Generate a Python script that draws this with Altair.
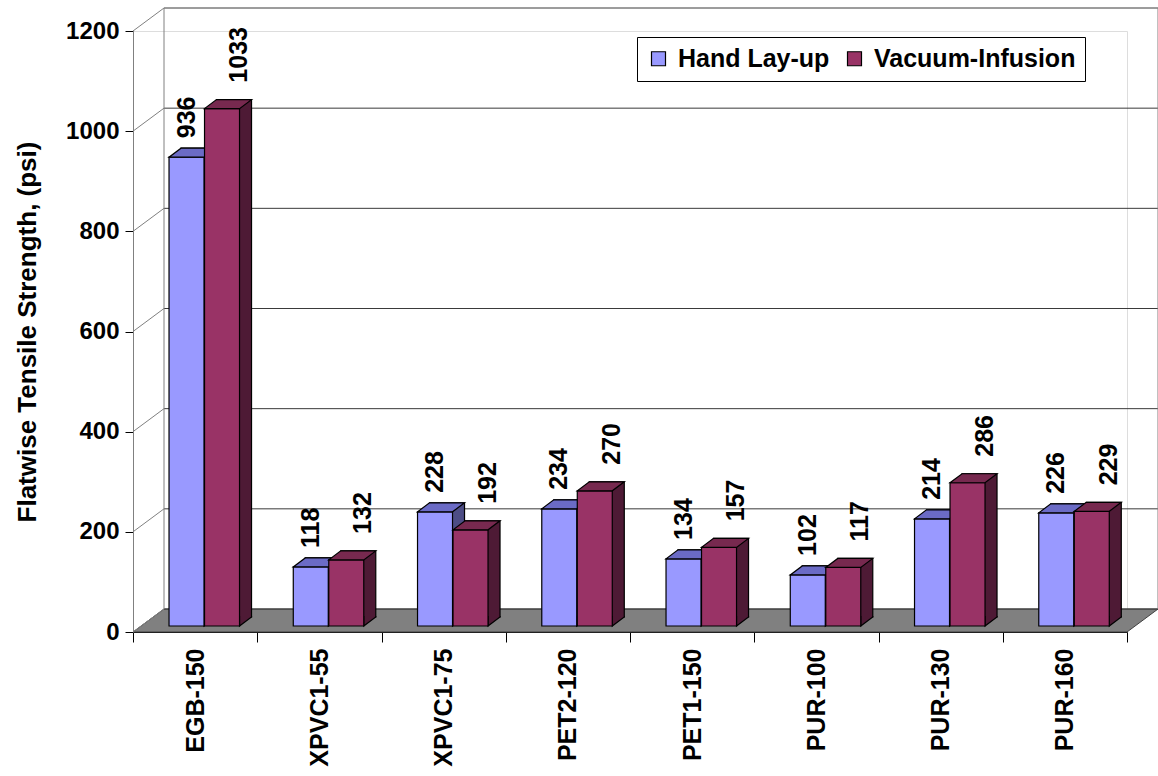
import altair as alt
import pandas as pd

# ---- data -------------------------------------------------------------
categories = ["EGB-150", "XPVC1-55", "XPVC1-75", "PET2-120",
              "PET1-150", "PUR-100", "PUR-130", "PUR-160"]
hand_layup = [936, 118, 228, 234, 134, 102, 214, 226]
vacuum_infusion = [1033, 132, 192, 270, 157, 117, 286, 229]
methods = ["Hand Lay-up", "Vacuum-Infusion"]
y_ticks = [0, 200, 400, 600, 800, 1000, 1200]

# ---- styling / geometry --------------------------------------------------
FONT = "Liberation Sans, Arial, sans-serif"
W, H = 994, 601                 # front plot rectangle
WALL_DX, WALL_DY = 31, 23       # depth of the box (walls / floor)
BAR_W = 35                      # front face width of one bar
BAR_DX, BAR_DY = 12, 9          # depth of each bar block
LIFT = -6                       # bars stand in the middle of the floor
# horizontal placement of each series' bar centre relative to the band centre
SERIES_DX = {"Hand Lay-up": -8.6, "Vacuum-Infusion": 26.9}

rows = []
for cat, h, v in zip(categories, hand_layup, vacuum_infusion):
    rows.append({"material": cat, "method": methods[0], "psi": h})
    rows.append({"material": cat, "method": methods[1], "psi": v})
bars_df = pd.DataFrame(rows)
ticks_df = pd.DataFrame({"psi": y_ticks})

y_scale = alt.Scale(domain=[0, 1200], nice=False, zero=True)
x_scale = alt.Scale(domain=categories, paddingInner=0, paddingOuter=0)
color_scale = alt.Scale(domain=methods, range=["#9999FF", "#993366"])

x_axis = alt.Axis(
    title=None, labelAngle=270, labelAlign="right", labelBaseline="middle",
    labelFont=FONT, labelFontSize=25, labelFontWeight="bold", labelColor="black",
    labelPadding=6, tickBand="extent", tickSize=10, tickColor="black",
    domainColor="black", domainWidth=1.2, grid=False,
)
y_axis = alt.Axis(
    values=y_ticks, format="d", title="Flatwise Tensile Strength, (psi)",
    grid=False, domainColor="#808080", tickColor="black", tickSize=8,
    labelFont=FONT, labelFontSize=24, labelFontWeight="bold", labelColor="black",
    labelPadding=6, titleFont=FONT, titleFontSize=26, titleFontWeight="bold",
    titleColor="black", titlePadding=25,
)

X = alt.X("material:N", scale=x_scale, sort=categories, axis=x_axis)
Y = alt.Y("psi:Q", scale=y_scale, axis=y_axis)

legend = alt.Legend(
    orient="none", legendX=504, legendY=6, direction="horizontal", title=None,
    labelFont=FONT, labelFontSize=25, labelFontWeight="bold", labelColor="black",
    labelLimit=0, symbolType="square", symbolSize=196, symbolStrokeColor="black",
    symbolStrokeWidth=1.2, symbolOpacity=1, strokeColor="black",
    fillColor="white", padding=9, columnPadding=12, labelOffset=7,
)

# ---- the 3-D box: floor, back wall, left wall -----------------------------
floor_path = (f"M0,0 L{W},0 L{W + WALL_DX},{-WALL_DY} "
              f"L{WALL_DX},{-WALL_DY} Z")
floor = alt.Chart(ticks_df).transform_filter("datum.psi == 0").mark_point(
    shape=floor_path, size=4, filled=True, fill="#808080", fillOpacity=1,
    stroke="#404040", strokeWidth=1, strokeOpacity=1,
).encode(x=alt.value(0), y=Y)

back_grid = alt.Chart(ticks_df).mark_rule(
    color="#3a3a3a", strokeWidth=1, yOffset=-WALL_DY,
).encode(y=Y, x=alt.value(WALL_DX), x2=alt.value(W + WALL_DX))

side_grid = alt.Chart(ticks_df).mark_rule(
    color="#808080", strokeWidth=1, y2Offset=-WALL_DY,
).encode(y=Y, y2=alt.Y2("psi:Q"), x=alt.value(0), x2=alt.value(WALL_DX))

wall_edges = [
    alt.Chart(ticks_df).transform_filter("datum.psi == 0").mark_rule(
        color="#808080", strokeWidth=1, yOffset=-WALL_DY, y2Offset=-WALL_DY,
    ).encode(x=alt.value(ex), y=Y, y2=alt.datum(1200))
    for ex in (WALL_DX, W + WALL_DX)
]

# ---- bars as small 3-D blocks -------------------------------------------
half = BAR_W / 2
top_path = (f"M{-half},0 L{half},0 L{half + BAR_DX},{-BAR_DY} "
            f"L{-half + BAR_DX},{-BAR_DY} Z")
foot_path = (f"M{half},{-BAR_DY - 1} L{half},0 L{half + BAR_DX},{-BAR_DY} "
             f"L{half + BAR_DX},{-BAR_DY - 1}")


def block_layers(method, top_color, side_color, label_dx, label_gap):
    dx = SERIES_DX[method]
    base = alt.Chart(bars_df).transform_filter(alt.datum.method == method)
    side = base.mark_bar(
        width=BAR_W, color=side_color, stroke="black", strokeWidth=1.2,
        xOffset=dx + BAR_DX, yOffset=LIFT - BAR_DY, y2Offset=LIFT - BAR_DY,
    ).encode(x=X, y=Y)
    foot = base.mark_point(
        shape=foot_path, size=4, filled=True, fill=side_color, fillOpacity=1,
        stroke="black", strokeWidth=1.2, strokeOpacity=1,
        xOffset=dx, yOffset=LIFT,
    ).encode(x=X, y=alt.datum(0))
    front = base.mark_bar(
        width=BAR_W, stroke="black", strokeWidth=1.2, opacity=1,
        xOffset=dx, yOffset=LIFT, y2Offset=LIFT,
    ).encode(
        x=X, y=Y,
        color=alt.Color("method:N", scale=color_scale, legend=legend),
    )
    top = base.mark_point(
        shape=top_path, size=4, filled=True, fill=top_color, fillOpacity=1,
        stroke="black", strokeWidth=1.2, strokeOpacity=1,
        xOffset=dx, yOffset=LIFT,
    ).encode(x=X, y=Y)
    label = base.mark_text(
        angle=270, align="left", baseline="middle", font=FONT, fontSize=25,
        fontWeight="bold", color="black",
        xOffset=dx + label_dx, yOffset=LIFT - label_gap,
    ).encode(x=X, y=Y, text="psi:Q")
    return [side, foot, front, top], label


hand_blocks, hand_labels = block_layers("Hand Lay-up", "#6B6BC6", "#4D4D85", 0, 19)
vac_blocks, vac_labels = block_layers("Vacuum-Infusion", "#77294F", "#4E1A35", 17, 26)

chart = alt.layer(
    floor, back_grid, side_grid, *wall_edges,
    *hand_blocks, *vac_blocks, hand_labels, vac_labels,
).properties(
    width=W, height=H,
    autosize=alt.AutoSizeParams(type="none"),
    padding={"left": 133, "top": 31, "right": 31, "bottom": 144},
).configure_view(strokeWidth=0).configure(background="white")

chart.save("out.html", embed_options={"renderer": "svg", "actions": False})
